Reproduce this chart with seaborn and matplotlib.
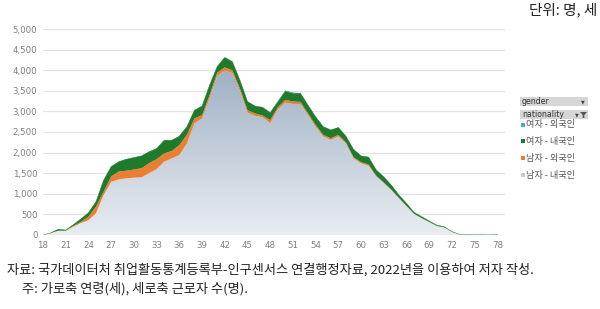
import numpy as np
import pandas as pd
import matplotlib
matplotlib.use("Agg")
import matplotlib.pyplot as plt
import seaborn as sns
from matplotlib.patches import Rectangle, Polygon
from matplotlib.colors import LinearSegmentedColormap

ages = list(range(18, 79))
# totals (top of stack)
total = [0, 50, 140, 120, 250, 390, 540, 810, 1330, 1660, 1780, 1840, 1880, 1920, 2020, 2100,
         2300, 2300, 2400, 2630, 3030, 3130, 3640, 4090, 4310, 4210, 3760, 3240, 3130, 3100,
         2970, 3240, 3500, 3450, 3440, 3150, 2870, 2630, 2550, 2610, 2400, 2080, 1920, 1890,
         1580, 1410, 1210, 970, 770, 550, 445, 340, 240, 200, 80, 20, 10, 5, 5, 3, 8]
male_native = [0, 45, 100, 100, 200, 290, 360, 530, 970, 1290, 1350, 1375, 1390, 1400, 1500, 1600,
               1780, 1860, 1940, 2220, 2710, 2830, 3320, 3860, 3990, 3930, 3500, 2970, 2890, 2860,
               2710, 3050, 3210, 3180, 3180, 2910, 2630, 2390, 2310, 2390, 2220, 1860, 1740, 1680,
               1420, 1260, 1090, 890, 700, 510, 405, 315, 220, 185, 75, 18, 9, 4, 4, 3, 7]
male_foreign = [0, 0, 5, 5, 20, 30, 85, 160, 80, 130, 190, 185, 200, 220, 240, 240,
                200, 180, 240, 210, 120, 80, 80, 80, 80, 70, 60, 60, 60, 40,
                80, 50, 70, 60, 50, 40, 40, 40, 40, 40, 30, 30, 30, 30,
                20, 15, 10, 10, 5, 5, 5, 0, 0, 0, 0, 0, 0, 0, 0, 0, 0]
female_foreign = [0, 0, 0, 0, 0, 0, 0, 0, 0, 0, 0, 0, 0, 0, 0, 0,
                  0, 0, 0, 0, 0, 0, 0, 0, 0, 0, 0, 0, 0, 0,
                  0, 10, 10, 10, 0, 0, 0, 0, 0, 0, 0, 0, 0, 0,
                  0, 0, 0, 0, 0, 0, 0, 0, 0, 0, 0, 0, 0, 0, 0, 0, 0]
female_native = [t - a - b - c for t, a, b, c in zip(total, male_native, male_foreign, female_foreign)]

series_names = ["남자 - 내국인", "남자 - 외국인", "여자 - 내국인", "여자 - 외국인"]
legend_order = ["여자 - 외국인", "여자 - 내국인", "남자 - 외국인", "남자 - 내국인"]
y_ticks = [0, 500, 1000, 1500, 2000, 2500, 3000, 3500, 4000, 4500, 5000]
x_ticks = list(range(18, 79, 3))

colors = {"남자 - 내국인": "#c3cedb", "남자 - 외국인": "#ed7d31",
          "여자 - 내국인": "#1f7a2c", "여자 - 외국인": "#4bacc6"}

df = pd.DataFrame({"age": ages, "남자 - 내국인": male_native, "남자 - 외국인": male_foreign,
                   "여자 - 내국인": female_native, "여자 - 외국인": female_foreign})

sns.set_theme(style="white")
plt.rcParams["font.family"] = ["Noto Sans CJK KR", "DejaVu Sans"]

fig = plt.figure(figsize=(6.0, 3.09), dpi=100)
ax = fig.add_axes([43 / 600, 1 - 235 / 309, (505 - 43) / 600, (235 - 29) / 309])

x = df["age"].to_numpy()
cum = np.zeros(len(x))
for name in series_names:
    vals = df[name].to_numpy(dtype=float)
    top = cum + vals
    if name == "남자 - 내국인":
        poly = ax.fill_between(x, cum, top, facecolor="none", edgecolor="none", zorder=2)
        cmap = LinearSegmentedColormap.from_list("g", ["#e9edf1", "#9aacc1"])
        grad = np.linspace(0, 1, 256).reshape(-1, 1)
        im = ax.imshow(grad, cmap=cmap, origin="lower", aspect="auto",
                       extent=[18, 79, 0, 4300], zorder=2)
        path = poly.get_paths()[0]
        im.set_clip_path(path, transform=ax.transData)
    else:
        ax.fill_between(x, cum, top, facecolor=colors[name], edgecolor="none", zorder=3)
    cum = top

# seaborn line for the outline of total
sns.lineplot(x=x, y=cum, ax=ax, color=colors["여자 - 내국인"], linewidth=0.3, zorder=4)

ax.set_xlim(18, 79)
ax.set_ylim(0, 5000)
ax.set_yticks(y_ticks)
ax.set_yticklabels([f"{v:,}" for v in y_ticks], fontsize=6.2, color="#7f7f7f", family="DejaVu Sans")
ax.set_xticks(x_ticks)
ax.set_xticklabels([str(v) for v in x_ticks], fontsize=6.2, color="#7f7f7f", family="DejaVu Sans")
ax.tick_params(axis="both", length=0, pad=4)
for s in ax.spines.values():
    s.set_visible(False)
ax.grid(axis="y", color="#e3e3e3", linewidth=0.9, zorder=0)
ax.set_axisbelow(True)
ax.set_xlabel("")
ax.set_ylabel("")

# unit label
fig.text(597 / 600, 1 - 10 / 309, "단위: 명, 세", ha="right", va="center", fontsize=10.5, color="#222222")

# legend (pivot-chart style)
def fx(px):
    return px / 600

def fy(py):
    return 1 - py / 309

for (y0, y1, label) in [(97, 106, "gender"), (110, 119, "nationality")]:
    fig.patches.append(Rectangle((fx(520), fy(y1)), fx(588) - fx(520), fy(y0) - fy(y1),
                                 transform=fig.transFigure, facecolor="#d6d6d6",
                                 edgecolor="none"))
    fig.text(fx(522), fy((y0 + y1) / 2), label, ha="left", va="center", fontsize=5.6,
             color="#333333", family="DejaVu Sans")
# dropdown arrows
fig.text(fx(585), fy(101.5), "▼", ha="right", va="center", fontsize=3.5, color="#444444", family="DejaVu Sans")
fig.text(fx(579), fy(115), "▼", ha="right", va="center", fontsize=3.5, color="#444444", family="DejaVu Sans")
fig.patches.append(Polygon([[fx(580), fy(112)], [fx(587), fy(112)], [fx(584.3), fy(115)],
                            [fx(584.3), fy(118)], [fx(582.7), fy(118)], [fx(582.7), fy(115)]],
                           closed=True, transform=fig.transFigure, facecolor="#555555", edgecolor="none"))

legend_marker_colors = {"여자 - 외국인": "#4bacc6", "여자 - 내국인": "#1f7a2c",
                        "남자 - 외국인": "#ed7d31", "남자 - 내국인": "#c3cedb"}
for i, name in enumerate(legend_order):
    yy = 125 + i * 16.7
    fig.patches.append(Rectangle((fx(520.5), fy(yy + 1.5)), fx(4), fy(0) - fy(4),
                                 transform=fig.transFigure,
                                 facecolor=legend_marker_colors[name], edgecolor="none"))
    fig.text(fx(526.5), fy(yy), name, ha="left", va="center", fontsize=6.6, color="#555555")

# footer
fig.text(fx(7), fy(270), "자료: 국가데이터처 취업활동통계등록부-인구센서스 연결행정자료, 2022년을 이용하여 저자 작성.",
         ha="left", va="center", fontsize=9.5, color="#222222")
fig.text(fx(22), fy(289), "주: 가로축 연령(세), 세로축 근로자 수(명).",
         ha="left", va="center", fontsize=9.5, color="#222222")

fig.savefig("out.png", dpi=100)
